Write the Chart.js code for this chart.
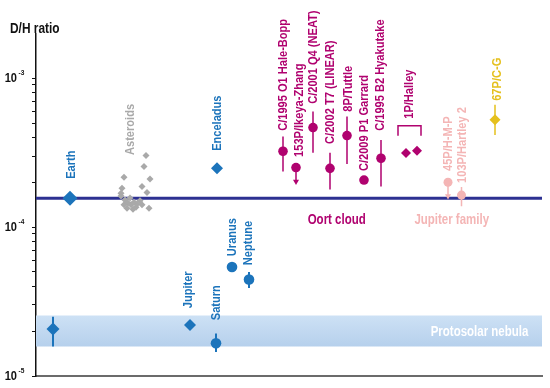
<!DOCTYPE html>
<html>
<head>
<meta charset="utf-8">
<script src="https://cdn.jsdelivr.net/npm/chart.js@4.4.1/dist/chart.umd.min.js"></script>
<style>
  html, body { margin: 0; padding: 0; background: #fff; }
</style>
</head>
<body>
<canvas id="dh" width="550" height="388"></canvas>
<script>
// D/H ratio of water in the solar system.
// x is just a slot along the unlabelled horizontal axis, y is the D/H ratio.
const EARTH_DH = 1.56e-4;
const PROTOSOLAR_BAND = [1.58e-5, 2.55e-5];

const Y_MAJOR = [1e-5, 1e-4, 1e-3];
const Y_MAJOR_EXP = ['-5', '-4', '-3'];
const Y_MINOR = [2e-5, 3e-5, 4e-5, 5e-5, 6e-5, 7e-5, 8e-5, 9e-5,
                 2e-4, 3e-4, 4e-4, 5e-4, 6e-4, 7e-4, 8e-4, 9e-4];

const protosolar = [{ x: 17, y: 2.07e-5, lo: 1.58e-5, hi: 2.5e-5 }];
const earth = [{ x: 34, y: 1.56e-4 }];

const asteroids = [
  { x: 110, y: 3.02e-4 }, { x: 108, y: 2.55e-4 }, { x: 114, y: 2.10e-4 },
  { x: 88, y: 2.16e-4 }, { x: 106, y: 1.87e-4 }, { x: 111, y: 1.71e-4 },
  { x: 86, y: 1.82e-4 }, { x: 85, y: 1.62e-4 }, { x: 113, y: 1.34e-4 },
  { x: 89, y: 1.52e-4 }, { x: 92, y: 1.45e-4 }, { x: 95, y: 1.41e-4 },
  { x: 98, y: 1.47e-4 }, { x: 101, y: 1.43e-4 }, { x: 104, y: 1.50e-4 },
  { x: 91, y: 1.34e-4 }, { x: 97, y: 1.32e-4 }, { x: 100, y: 1.36e-4 },
  { x: 94, y: 1.57e-4 }, { x: 106, y: 1.41e-4 }, { x: 88, y: 1.41e-4 },
  { x: 85, y: 1.69e-4 }
];

const moonsDiamond = [
  { x: 154, y: 2.2e-5 },   // Jupiter
  { x: 181, y: 2.48e-4 }   // Enceladus
];
const planetsCircle = [
  { x: 180, y: 1.66e-5, lo: 1.45e-5, hi: 1.93e-5 }, // Saturn
  { x: 196, y: 5.4e-5 },                            // Uranus
  { x: 213, y: 4.45e-5, lo: 3.9e-5, hi: 5.0e-5 }    // Neptune
];

const oortComets = [
  { x: 247, y: 3.23e-4, lo: 2.36e-4, hi: 4.06e-4 }, // Hale-Bopp
  { x: 260, y: 2.51e-4, limit: 2.02e-4 },          // 153P/Ikeya-Zhang
  { x: 277, y: 4.66e-4, lo: 3.16e-4, hi: 5.97e-4 }, // C/2001 Q4
  { x: 294, y: 2.48e-4, lo: 1.79e-4, hi: 3.16e-4 }, // C/2002 T7
  { x: 311, y: 4.12e-4, lo: 2.65e-4, hi: 5.53e-4 }, // 8P/Tuttle
  { x: 328, y: 2.07e-4 },                           // C/2009 P1
  { x: 345, y: 2.90e-4, lo: 1.87e-4, hi: 3.85e-4 }  // Hyakutake
];
const halley = [{ x: 370, y: 3.14e-4 }, { x: 381, y: 3.25e-4 }];
const halleyBracket = [
  { x: 362, y: 4.10e-4 }, { x: 362, y: 4.79e-4 },
  { x: 385, y: 4.79e-4 }, { x: 385, y: 4.10e-4 }
];

const jupiterFamily = [
  { x: 412, y: 2.0e-4, limit: 1.62e-4 },            // 45P/H-M-P
  { x: 425.5, y: 1.64e-4, lo: 1.38e-4, hi: 1.86e-4 } // 103P/Hartley 2
];
const rosetta = [{ x: 459, y: 5.26e-4, lo: 4.16e-4, hi: 6.63e-4 }]; // 67P/C-G

const BLUE = '#1c74bb';
const GREY = '#a9a9a9';
const MAGENTA = '#b0026f';
const PINK = '#f4b5b5';
const YELLOW = '#e5c01d';
const NAVY = '#2d3192';

// rotated labels: text starts at (x, y) and runs upward
const LABELS = [
  { text: 'Earth', x: 35, y: 2.11e-4, color: BLUE },
  { text: 'Asteroids', x: 94, y: 3.05e-4, color: GREY },
  { text: 'Enceladus', x: 181, y: 3.25e-4, color: BLUE },
  { text: 'Jupiter', x: 152, y: 2.85e-5, color: BLUE },
  { text: 'Saturn', x: 180.5, y: 2.37e-5, color: BLUE },
  { text: 'Uranus', x: 196, y: 6.38e-5, color: BLUE },
  { text: 'Neptune', x: 212.5, y: 5.55e-5, color: BLUE },
  { text: 'C/1995 O1 Hale-Bopp', x: 247.5, y: 4.43e-4, color: MAGENTA },
  { text: '153P/Ikeya-Zhang', x: 263, y: 2.96e-4, color: MAGENTA },
  { text: 'C/2001 Q4 (NEAT)', x: 277.5, y: 6.73e-4, color: MAGENTA },
  { text: 'C/2002 T7 (LINEAR)', x: 294, y: 3.62e-4, color: MAGENTA },
  { text: '8P/Tuttle', x: 312, y: 5.95e-4, color: MAGENTA },
  { text: 'C/2009 P1 Garrard', x: 328, y: 2.38e-4, color: MAGENTA },
  { text: 'C/1995 B2 Hyakutake', x: 344, y: 4.43e-4, color: MAGENTA },
  { text: '1P/Halley', x: 373, y: 5.34e-4, color: MAGENTA },
  { text: '45P/H-M-P', x: 412, y: 2.38e-4, color: PINK },
  { text: '103P/Hartley 2', x: 426.5, y: 1.98e-4, color: PINK },
  { text: '67P/C-G', x: 461, y: 7.05e-4, color: YELLOW }
];
const GROUP_LABELS = [
  { text: 'Oort cloud', x: 300.7, y: 1.11e-4, color: MAGENTA },
  { text: 'Jupiter family', x: 415.7, y: 1.11e-4, color: PINK },
  { text: 'Protosolar nebula', x: 443.5, y: 1.97e-5, color: '#ffffff' }
];

// the original uses a narrow face; squeeze Liberation Sans to match
const FONT = "'Liberation Sans', Arial, sans-serif";
const SQUEEZE = 0.82;

function drawNarrow(ctx, text, x, y, opts) {
  ctx.save();
  ctx.translate(x, y);
  if (opts.rotate) ctx.rotate(-Math.PI / 2);
  ctx.scale(SQUEEZE, 1);
  ctx.font = 'bold ' + opts.size + 'px ' + FONT;
  ctx.fillStyle = opts.color;
  ctx.textAlign = opts.align || 'left';
  ctx.textBaseline = opts.baseline || 'alphabetic';
  ctx.fillText(text, 0, 0);
  ctx.restore();
}

function errorSegments(points) {
  const out = [];
  points.forEach(p => {
    if (p.lo != null) out.push({ x: p.x, y: p.lo }, { x: p.x, y: p.hi }, { x: p.x, y: null });
    if (p.limit != null) out.push({ x: p.x, y: p.y }, { x: p.x, y: p.limit }, { x: p.x, y: null });
  });
  return out;
}
function arrowHeads(points) {
  return points.filter(p => p.limit != null).map(p => ({ x: p.x, y: p.limit }));
}

function markers(data, color, style, radius) {
  return {
    type: 'scatter', data, order: 1,
    pointStyle: style, pointRadius: radius, pointHoverRadius: radius,
    backgroundColor: color, borderColor: color, borderWidth: 0
  };
}
function bars(data, color, width) {
  return {
    type: 'line', data, order: 3, spanGaps: false,
    borderColor: color, borderWidth: width, pointRadius: 0, fill: false
  };
}

const textPlugin = {
  id: 'dhText',
  afterDraw(chart) {
    const { ctx } = chart;
    const xs = chart.scales.x, ys = chart.scales.y;
    LABELS.forEach(l => {
      drawNarrow(ctx, l.text, xs.getPixelForValue(l.x), ys.getPixelForValue(l.y),
        { rotate: true, size: 13.5, color: l.color, baseline: 'middle' });
    });
    GROUP_LABELS.forEach(l => {
      drawNarrow(ctx, l.text, xs.getPixelForValue(l.x), ys.getPixelForValue(l.y),
        { size: 14, color: l.color, align: 'center', baseline: 'middle' });
    });
    // y tick labels with superscript exponent
    Y_MAJOR.forEach((v, i) => {
      const y = ys.getPixelForValue(v);
      drawNarrow(ctx, '10', 17, y + 4, { size: 13.5, color: '#111', align: 'right' });
      drawNarrow(ctx, Y_MAJOR_EXP[i], 18.5, y - 3, { size: 8, color: '#111' });
    });
    drawNarrow(ctx, 'D/H ratio', 10, 33, { size: 14.5, color: '#111' });
  }
};

new Chart(document.getElementById('dh'), {
  type: 'scatter',
  data: {
    datasets: [
      {
        type: 'line', order: 10,
        data: [{ x: 0, y: PROTOSOLAR_BAND[1] }, { x: 506, y: PROTOSOLAR_BAND[1] }],
        borderColor: 'transparent', borderWidth: 0, pointRadius: 0,
        fill: { value: PROTOSOLAR_BAND[0] },
        backgroundColor: c => {
          const ca = c.chart.chartArea;
          if (!ca) return '#c3daf1';
          const y = c.chart.scales.y;
          const g = c.chart.ctx.createLinearGradient(0, y.getPixelForValue(PROTOSOLAR_BAND[1]), 0, y.getPixelForValue(PROTOSOLAR_BAND[0]));
          g.addColorStop(0, '#cde1f5');
          g.addColorStop(1, '#b6d0ec');
          return g;
        }
      },
      {
        type: 'line', order: 9,
        data: [{ x: 0, y: EARTH_DH }, { x: 506, y: EARTH_DH }],
        borderColor: NAVY, borderWidth: 3, pointRadius: 0, fill: false
      },
      bars(errorSegments(protosolar.concat(planetsCircle)), BLUE, 2),
      bars(errorSegments(oortComets), MAGENTA, 1.5),
      bars(halleyBracket, MAGENTA, 1.5),
      bars(errorSegments(jupiterFamily), PINK, 1.5),
      bars(errorSegments(rosetta), YELLOW, 1.5),
      {
        type: 'scatter', order: 2,
        data: arrowHeads(oortComets),
        pointStyle: 'triangle', rotation: 180, pointRadius: 3.5,
        backgroundColor: MAGENTA, borderColor: MAGENTA, borderWidth: 0
      },
      {
        type: 'scatter', order: 2,
        data: arrowHeads(jupiterFamily),
        pointStyle: 'triangle', rotation: 180, pointRadius: 3.5,
        backgroundColor: PINK, borderColor: PINK, borderWidth: 0
      },
      markers(asteroids, GREY, 'rectRot', 3.5),
      markers(protosolar, BLUE, 'rectRot', 6.5),
      markers(earth, BLUE, 'rectRot', 7.5),
      markers(moonsDiamond, BLUE, 'rectRot', 6),
      markers(planetsCircle, BLUE, 'circle', 5.3),
      markers(oortComets, MAGENTA, 'circle', 4.8),
      markers(halley, MAGENTA, 'rectRot', 5),
      markers(jupiterFamily, PINK, 'circle', 4.5),
      markers(rosetta, YELLOW, 'rectRot', 5.5)
    ]
  },
  options: {
    responsive: false,
    animation: false,
    devicePixelRatio: 1,
    layout: { padding: { top: 34, right: 8, left: 0, bottom: 0 } },
    plugins: { legend: { display: false }, tooltip: { enabled: false } },
    scales: {
      x: {
        type: 'linear', min: 0, max: 506,
        ticks: { display: false },
        grid: { display: false },
        border: { color: '#6b6b6b', width: 2 },
        afterFit: s => { s.height = 12; }
      },
      y: {
        type: 'logarithmic', min: 1e-5, max: 1.98e-3,
        afterBuildTicks: s => {
          s.ticks = Y_MAJOR.concat(Y_MINOR).sort((a, b) => a - b).map(v => ({ value: v }));
        },
        ticks: { display: false },
        grid: { drawOnChartArea: false, drawTicks: true, tickLength: 4, color: '#111', lineWidth: 1 },
        border: { color: '#111', width: 1.5 },
        afterFit: s => { s.width = 36; }
      }
    }
  },
  plugins: [textPlugin]
});
</script>
</body>
</html>
